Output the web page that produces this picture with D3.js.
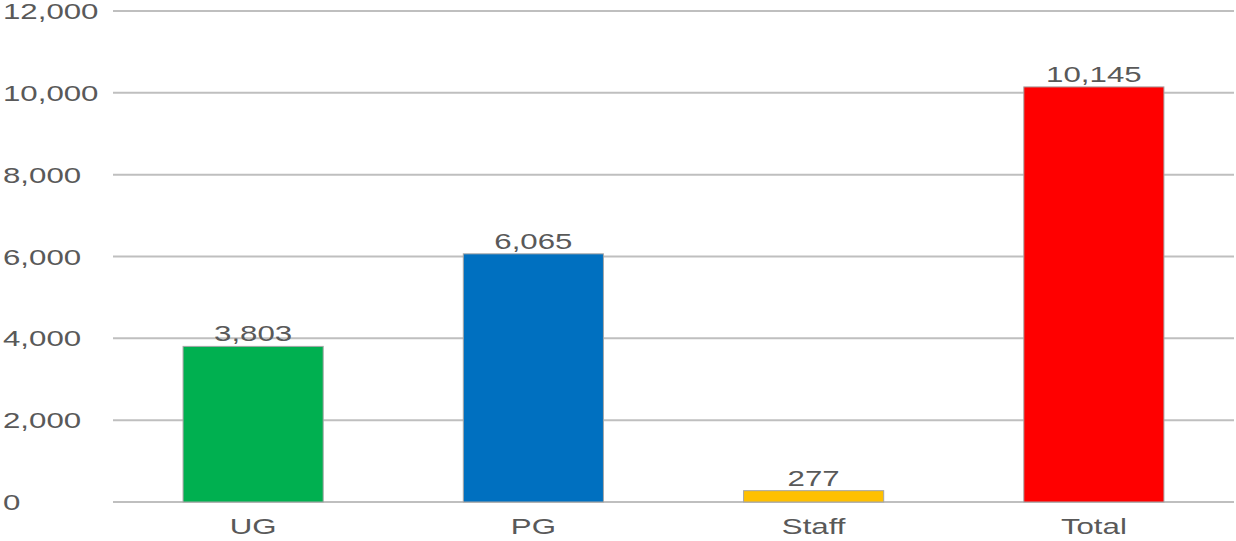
<!DOCTYPE html>
<html>
<head>
<meta charset="utf-8">
<script src="https://cdn.jsdelivr.net/npm/d3@7"></script>
<style>
  body { margin: 0; background: #fff; }
  text { font-family: "Liberation Sans", Arial, sans-serif; fill: #595959; }
</style>
</head>
<body>
<div id="chart"></div>
<script>
var categories = ["UG", "PG", "Staff", "Total"];
var values = [3803, 6065, 277, 10145];
var barColors = ["#00B050", "#0070C0", "#FFC000", "#FF0000"];
var yTicks = [0, 2000, 4000, 6000, 8000, 10000, 12000];

var width = 1236, height = 541;
var stretch = 1.42; // the picture's text is wide

var svg = d3.select("#chart").append("svg")
    .attr("width", width)
    .attr("height", height);

var x = d3.scaleBand().domain(categories).range([113, 1234])
    .paddingInner(0.5).paddingOuter(0.25);
var y = d3.scaleLinear().domain([0, 12000]).range([502, 11]);

var fmt = d3.format(",");

// grid
svg.append("g").selectAll("line")
    .data(yTicks)
  .enter().append("line")
    .attr("x1", 113).attr("x2", 1234)
    .attr("y1", function(d) { return y(d); })
    .attr("y2", function(d) { return y(d); })
    .attr("stroke", "#BFBFBF")
    .attr("stroke-width", 2);

// y labels
svg.append("g").selectAll("text")
    .data(yTicks)
  .enter().append("text")
    .attr("transform", function(d) { return "translate(3," + (y(d) + 8) + ") scale(" + stretch + ",1)"; })
    .attr("font-size", 22)
    .text(function(d) { return fmt(d); });

// bars
svg.append("g").selectAll("rect")
    .data(values)
  .enter().append("rect")
    .attr("x", function(d, i) { return x(categories[i]); })
    .attr("width", x.bandwidth())
    .attr("y", function(d) { return y(d); })
    .attr("height", function(d) { return y(0) - y(d); })
    .attr("fill", function(d, i) { return barColors[i]; })
    .attr("stroke", "#A6A6A6")
    .attr("stroke-width", 1);

// value labels
svg.append("g").selectAll("text")
    .data(values)
  .enter().append("text")
    .attr("text-anchor", "middle")
    .attr("font-size", 22)
    .attr("transform", function(d, i) {
      return "translate(" + (x(categories[i]) + x.bandwidth() / 2) + "," + (y(d) - 5) + ") scale(" + stretch + ",1)";
    })
    .text(function(d) { return fmt(d); });

// x labels
svg.append("g").selectAll("text")
    .data(categories)
  .enter().append("text")
    .attr("text-anchor", "middle")
    .attr("font-size", 22)
    .attr("transform", function(d) {
      return "translate(" + (x(d) + x.bandwidth() / 2) + ",534) scale(" + stretch + ",1)";
    })
    .text(function(d) { return d; });
</script>
</body>
</html>
